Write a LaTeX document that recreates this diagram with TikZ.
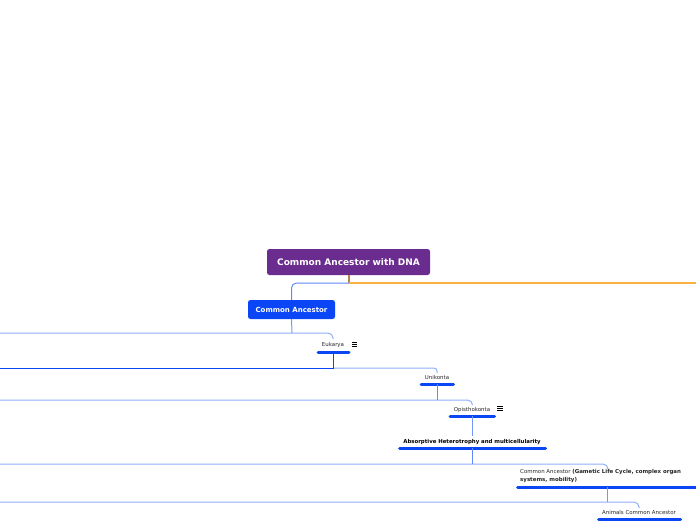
\documentclass[tikz,border=0pt]{standalone}
\usepackage{fontspec}
\setmainfont{DejaVu Sans}
\definecolor{rootc}{HTML}{6A2C8E}
\definecolor{mainb}{HTML}{0A46F5}
\definecolor{lightb}{HTML}{8FAEFB}
\definecolor{midb}{HTML}{7398F9}
\definecolor{stemb}{HTML}{5F88F8}
\definecolor{linkorange}{HTML}{F9B23F}
\definecolor{linkbrown}{HTML}{B5824F}
\tikzset{
 x=1pt,y=-1pt,
 rootbox/.style={fill=rootc,rounded corners=2.5pt,text=white,font=\bfseries\fontsize{9}{10}\selectfont,inner sep=0pt,minimum width=163pt,minimum height=26pt},
 mainbox/.style={fill=mainb,rounded corners=2.5pt,text=white,font=\bfseries\fontsize{7}{8}\selectfont,inner sep=0pt,minimum width=87pt,minimum height=19pt},
 lab/.style={font=\fontsize{5.45}{8}\selectfont,text=black!85,inner sep=0pt},
 blab/.style={font=\bfseries\fontsize{5.4}{8}\selectfont,text=black,inner sep=0pt},
 bar/.style={draw=mainb,line width=3pt,line cap=round},
 conn/.style={draw=lightb,line width=1pt,rounded corners=5pt},
 stem/.style={draw=midb,line width=1pt},
 stemdark/.style={draw=stemb,line width=1pt},
 dark/.style={draw=mainb,line width=1pt},
 menu/.style={inner sep=0pt,minimum width=5pt,minimum height=5pt},
}
\begin{document}
\begin{tikzpicture}
\useasboundingbox (0,0) rectangle (696,520);
\node[rootbox] (root) at (348.5,262) {Common Ancestor with DNA};
\node[mainbox] (ca) at (291.5,309.5) {Common Ancestor};
\coordinate (j0) at (349,283);
\coordinate (oE) at (696,283);
\draw[color=linkbrown,line width=1.2pt] (root.south -| j0) -- (j0);
\draw[color=linkorange,line width=1.2pt] (j0) -- (oE);
\draw[stemdark,rounded corners=5pt] (j0) -| (ca.north);
% Eukarya
\node[lab] (euk) at (333,345) {Eukarya};
\coordinate (eL) at (318,352); \coordinate (eR) at (349,352); \coordinate (eM) at (333,352);
\draw[bar] (eL) -- (eR);
\coordinate (l1) at (0,333); \coordinate (j1) at (292,333); \coordinate (e1) at (333,339);
\draw[stem] (ca.south) -- (j1);
\draw[conn] (l1) -| (e1);
% menu icon
\node[menu] (m1) at (354.5,344.5) {};
\foreach \d in {-2,0,2} \draw[black,line width=.7pt] ([yshift=\d pt]m1.west) -- ([yshift=\d pt]m1.east);
% Unikonta
\node[lab] (uni) at (437,377.5) {Unikonta};
\coordinate (uL) at (421,384); \coordinate (uR) at (453.5,384); \coordinate (uM) at (437,384);
\draw[bar] (uL) -- (uR);
\coordinate (j2) at (333,368); \coordinate (l2) at (0,368); \coordinate (e2) at (437,373);
\draw[conn,rounded corners=3pt] (j2) -| (e2);
\draw[dark] (eM) -- (j2) -- (l2);
% Opisthokonta
\node[lab] (opi) at (472,409.5) {Opisthokonta};
\coordinate (oL) at (450,416); \coordinate (oF) at (494.5,416); \coordinate (oM) at (472.5,416);
\draw[bar] (oL) -- (oF);
\coordinate (j3) at (437,400); \coordinate (l3) at (0,400); \coordinate (e3) at (472.5,405);
\draw[conn] (l3) -| (e3);
\draw[stemdark] (uM) -- (j3);
\node[menu] (m2) at (500,408.5) {};
\foreach \d in {-2,0,2} \draw[black,line width=.7pt] ([yshift=\d pt]m2.west) -- ([yshift=\d pt]m2.east);
% Absorptive
\node[blab] (abs) at (472,442) {Absorptive Heterotrophy and multicellularity};
\coordinate (aL) at (399.5,448); \coordinate (aR) at (545.5,448); \coordinate (aM) at (472.5,448);
\coordinate (aT) at (472.5,436);
\draw[bar] (aL) -- (aR);
\draw[stem] (oM) -- (aT);
% Common Ancestor (long)
\coordinate (j4) at (472.5,464); \coordinate (l4) at (0,464); \coordinate (e4) at (608,469);
\draw[conn] (l4) -| (e4);
\draw[stemdark] (aM) -- (j4);
\node[lab,anchor=north west,align=left] (cl) at (520,469.5) {Common Ancestor {\bfseries(Gametic Life Cycle, complex organ}\\{\bfseries systems, mobility)}};
\coordinate (cL) at (517.5,487); \coordinate (cR) at (697,487); \coordinate (cM) at (607.5,487);
\draw[bar] (cL) -- (cR);
% Animals
\coordinate (j5) at (607.5,502); \coordinate (l5) at (0,502); \coordinate (e5) at (639,508);
\draw[conn] (l5) -| (e5);
\draw[stem] (cM) -- (j5);
\node[lab] (ani) at (639,512.5) {Animals Common Ancestor};
\coordinate (nL) at (598.5,519); \coordinate (nR) at (680.5,519);
\draw[bar] (nL) -- (nR);
\end{tikzpicture}
\end{document}
